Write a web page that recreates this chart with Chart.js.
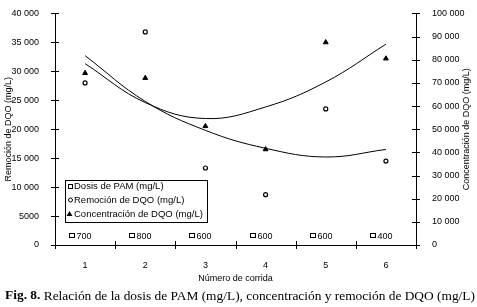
<!DOCTYPE html>
<html>
<head>
<meta charset="utf-8">
<script src="https://cdn.jsdelivr.net/npm/chart.js@4.4.1/dist/chart.umd.min.js"></script>
<style>
  html, body { margin: 0; padding: 0; background: #fff; }
</style>
</head>
<body>
<canvas id="graficaDQO" width="477" height="307"></canvas>
<script>
// datos
const corridas = [1, 2, 3, 4, 5, 6];
const dosisPAM = [700, 800, 600, 600, 600, 400];
const remocionDQO = [28000, 36800, 13300, 8700, 23500, 14500];
const concentracionDQO = [74200, 72100, 51300, 41300, 87500, 80500];
const tendenciaRemocion = [32700, 24800, 19800, 16700, 15200, 16500];
const tendenciaConcentracion = [78300, 61500, 54600, 59600, 70400, 86700];
const nivelDosis = 1500; // altura de la fila de etiquetas de dosis
const ticksRemocion = [0, 5000, 10000, 15000, 20000, 25000, 30000, 35000, 40000];
const ticksConcentracion = [0, 10000, 20000, 30000, 40000, 50000, 60000, 70000, 80000, 90000, 100000];

const fuente = 'Liberation Sans, Arial, sans-serif';
const fuentePie = 'Liberation Serif, Times New Roman, serif';

function formatoMiles(v) {
    if (v < 10000) return String(v);
    return String(v).replace(/\B(?=(\d{3})+(?!\d))/g, ' ');
}

const extras = {
    id: 'extras',
    afterDraw(chart) {
        const ctx = chart.ctx;
        const area = chart.chartArea;
        const sx = chart.scales.x, sy = chart.scales.y, sy2 = chart.scales.y2;
        ctx.save();
        ctx.strokeStyle = '#000';
        ctx.fillStyle = '#000';
        ctx.lineWidth = 1;

        // marcas que cruzan los ejes
        ctx.beginPath();
        ticksRemocion.forEach(v => {
            const py = Math.round(sy.getPixelForValue(v)) + 0.5;
            ctx.moveTo(area.left - 4, py); ctx.lineTo(area.left + 4, py);
        });
        ticksConcentracion.forEach(v => {
            const py = Math.round(sy2.getPixelForValue(v)) + 0.5;
            ctx.moveTo(area.right - 4, py); ctx.lineTo(area.right + 4, py);
        });
        [0.5].concat(corridas.map(c => c + 0.5)).forEach(v => {
            const px = Math.round(sx.getPixelForValue(v)) + 0.5;
            ctx.moveTo(px, area.bottom - 4); ctx.lineTo(px, area.bottom + 4);
        });
        ctx.stroke();

        // etiquetas de dosis de PAM
        ctx.font = '9px ' + fuente;
        ctx.textBaseline = 'middle';
        ctx.textAlign = 'left';
        chart.getDatasetMeta(0).data.forEach((pt, i) => {
            const qx = Math.round(pt.x) - 15.5;
            const qy = Math.round(pt.y) - 2.5;
            ctx.strokeRect(qx, qy, 5, 4);
            ctx.fillText(String(dosisPAM[i]), qx + 7, pt.y);
        });

        // leyenda
        ctx.strokeRect(65.5, 180.5, 142, 42);
        ctx.font = '9.5px ' + fuente;
        const filas = [186, 200, 214];
        ctx.strokeRect(68.5, 184.5, 4, 4);
        ctx.fillText(chart.data.datasets[0].label, 74, filas[0]);
        ctx.beginPath();
        ctx.arc(70.5, filas[1], 2, 0, Math.PI * 2);
        ctx.stroke();
        ctx.fillText(chart.data.datasets[1].label, 74, filas[1]);
        ctx.beginPath();
        ctx.moveTo(69.5, filas[2] - 3); ctx.lineTo(72.5, filas[2] + 2); ctx.lineTo(66.5, filas[2] + 2);
        ctx.closePath(); ctx.fill();
        ctx.fillText(chart.data.datasets[2].label, 74, filas[2]);

        // titulos de ejes
        const cy = (area.top + area.bottom) / 2;
        ctx.font = '9px ' + fuente;
        ctx.textAlign = 'center';
        ctx.save();
        ctx.translate(9, cy); ctx.rotate(-Math.PI / 2);
        ctx.fillText('Remoción de DQO (mg/L)', 0, 0);
        ctx.restore();
        ctx.save();
        ctx.translate(467, cy); ctx.rotate(-Math.PI / 2);
        ctx.fillText('Concentración de DQO (mg/L)', 0, 0);
        ctx.restore();
        ctx.fillText('Número de corrida', (area.left + area.right) / 2, 279);

        // pie de figura
        const negrita = 'Fig. 8.';
        const resto = ' Relación de la dosis de PAM (mg/L), concentración y remoción de DQO (mg/L)';
        ctx.textAlign = 'left';
        ctx.font = 'bold 13.4px ' + fuentePie;
        const w1 = ctx.measureText(negrita).width;
        ctx.font = '13.4px ' + fuentePie;
        const w2 = ctx.measureText(resto).width;
        const x0 = 240 - (w1 + w2) / 2;
        ctx.font = 'bold 13.4px ' + fuentePie;
        ctx.fillText(negrita, x0, 296);
        ctx.font = '13.4px ' + fuentePie;
        ctx.fillText(resto, x0 + w1, 296);
        ctx.restore();
    }
};

const ctx = document.getElementById('graficaDQO').getContext('2d');
new Chart(ctx, {
    type: 'scatter',
    data: {
        datasets: [
            {
                label: 'Dosis de PAM (mg/L)',
                data: corridas.map(c => ({ x: c, y: nivelDosis })),
                yAxisID: 'y',
                pointRadius: 0,
                showLine: false
            },
            {
                label: 'Remoción de DQO (mg/L)',
                data: corridas.map((c, i) => ({ x: c, y: remocionDQO[i] })),
                yAxisID: 'y',
                pointStyle: 'circle',
                pointRadius: 2,
                pointBorderWidth: 1.2,
                pointBackgroundColor: '#fff',
                pointBorderColor: '#000',
                showLine: false
            },
            {
                label: 'Concentración de DQO (mg/L)',
                data: corridas.map((c, i) => ({ x: c, y: concentracionDQO[i] })),
                yAxisID: 'y2',
                pointStyle: 'triangle',
                pointRadius: 2.8,
                pointBorderWidth: 1,
                pointBackgroundColor: '#000',
                pointBorderColor: '#000',
                showLine: false
            },
            {
                label: 'tendencia remoción',
                data: corridas.map((c, i) => ({ x: c, y: tendenciaRemocion[i] })),
                yAxisID: 'y',
                showLine: true,
                pointRadius: 0,
                borderColor: '#000',
                borderWidth: 1,
                tension: 0.4
            },
            {
                label: 'tendencia concentración',
                data: corridas.map((c, i) => ({ x: c, y: tendenciaConcentracion[i] })),
                yAxisID: 'y2',
                showLine: true,
                pointRadius: 0,
                borderColor: '#000',
                borderWidth: 1,
                tension: 0.4
            }
        ]
    },
    options: {
        responsive: false,
        animation: false,
        devicePixelRatio: 1,
        layout: { padding: { top: 5, left: 0, right: 0, bottom: 0 }, autoPadding: false },
        plugins: { legend: { display: false }, tooltip: { enabled: false } },
        scales: {
            x: {
                type: 'linear',
                min: 0.5,
                max: 6.5,
                afterBuildTicks: s => { s.ticks = corridas.map(v => ({ value: v })); },
                afterFit: s => { s.height = 62; },
                grid: { display: false },
                border: { display: true, color: '#000', width: 1 },
                ticks: {
                    color: '#000',
                    font: { family: fuente, size: 9 },
                    padding: 7,
                    maxRotation: 0,
                    autoSkip: false
                }
            },
            y: {
                position: 'left',
                min: 0,
                max: 40000,
                afterBuildTicks: s => { s.ticks = ticksRemocion.map(v => ({ value: v })); },
                afterFit: s => { s.width = 55; },
                grid: { display: false },
                border: { display: true, color: '#000', width: 1 },
                ticks: {
                    color: '#000',
                    font: { family: fuente, size: 9 },
                    padding: 8,
                    callback: v => formatoMiles(v)
                }
            },
            y2: {
                position: 'right',
                min: 0,
                max: 100000,
                afterBuildTicks: s => { s.ticks = ticksConcentracion.map(v => ({ value: v })); },
                afterFit: s => { s.width = 61; },
                grid: { display: false },
                border: { display: true, color: '#000', width: 1 },
                ticks: {
                    color: '#000',
                    font: { family: fuente, size: 9 },
                    padding: 8,
                    callback: v => formatoMiles(v)
                }
            }
        }
    },
    plugins: [extras]
});
</script>
</body>
</html>
